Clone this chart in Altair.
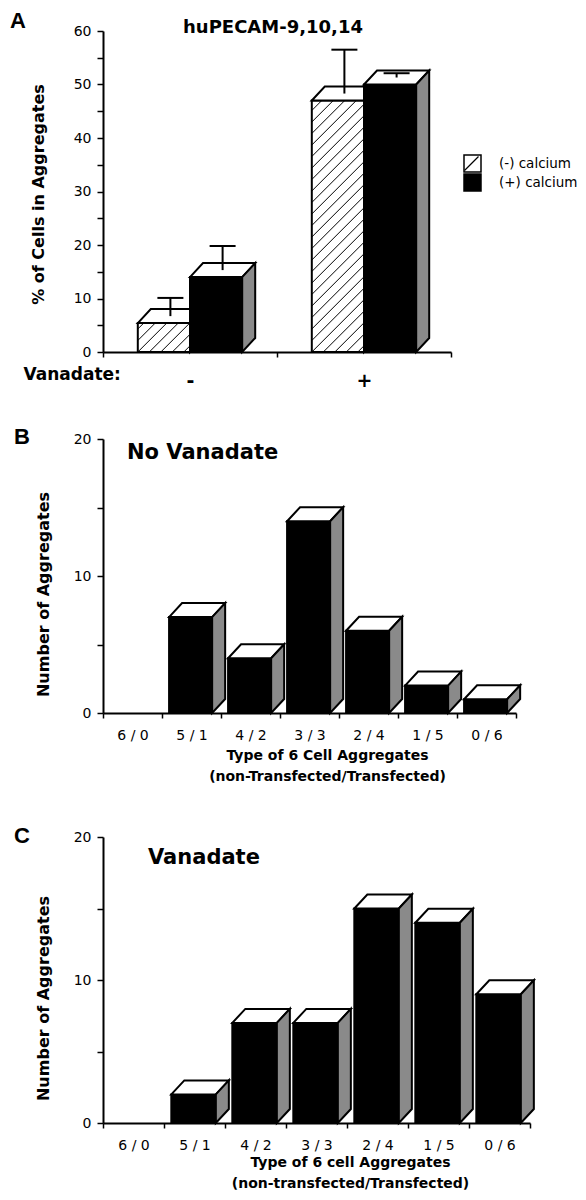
import json
import numpy as np
import pandas as pd
import altair as alt

# ---------------- data ----------------
vanadate_levels = ["-", "+"]
calcium_series = ["(-) calcium", "(+) calcium"]
pct_minus_calcium = [5.4, 47.0]
pct_plus_calcium = [14.0, 50.0]
se_minus_calcium = [3.4, 8.2]
se_plus_calcium = [4.5, 0.8]

aggregate_types = ["6/0", "5/1", "4/2", "3/3", "2/4", "1/5", "0/6"]
count_no_vanadate = [0, 7, 4, 14, 6, 2, 1]
count_vanadate = [0, 2, 7, 7, 15, 14, 9]

# ---------------- style ----------------
FONT = "DejaVu Sans"
DEPTH_X, DEPTH_Y = 13, 14        # pseudo-3D depth in pixels
SIDE_FILL = "#8a8a8a"
SW = 2


def bar_frame(values, offset, width, series):
    rows = []
    for i, v in enumerate(values):
        if v <= 0:
            continue
        rows.append(dict(bid=f"{series}-{i}", series=series, x0=i + offset,
                         x1=i + offset + width, v=v, zero=0.0))
    return pd.DataFrame(rows)


def face_frame(bars, du, dv):
    rows = []
    for r in bars.itertuples():
        t, s = r.bid + "-top", r.bid + "-side"
        rows += [
            dict(fid=t, color="white", x=r.x0, lo=r.v, hi=r.v),
            dict(fid=t, color="white", x=r.x0 + du, lo=r.v, hi=r.v + dv),
            dict(fid=t, color="white", x=r.x1, lo=r.v, hi=r.v + dv),
            dict(fid=t, color="white", x=r.x1 + du, lo=r.v + dv, hi=r.v + dv),
            dict(fid=s, color=SIDE_FILL, x=r.x1, lo=0.0, hi=r.v),
            dict(fid=s, color=SIDE_FILL, x=r.x1 + du, lo=dv, hi=r.v + dv),
        ]
    return pd.DataFrame(rows)


def hatch_frame(bars, px, py, step=11.5):
    rows = []
    for r in bars.itertuples():
        W = (r.x1 - r.x0) * px
        H = r.v * py
        for c in np.arange(-np.floor(H / step) * step, W, step):
            xs = max(0.0, c)
            xe = min(W, c + H)
            if xe - xs < 1:
                continue
            rows.append(dict(xa=r.x0 + xs / px, ya=(xs - c) / py,
                             xb=r.x0 + xe / px, yb=(xe - c) / py))
    return pd.DataFrame(rows)


def err_frame(bars, se, width, du, dv, cap_units):
    rows = []
    for (r, e) in zip(bars.itertuples(), se):
        cx = r.x0 + width / 2 + du / 2
        base = r.v + dv / 2
        rows.append(dict(cx=cx, base=base, top=base + e,
                         c0=cx - cap_units, c1=cx + cap_units))
    return pd.DataFrame(rows)


def text_layer(txt, x, y, size, weight="bold", align="left", font=FONT, baseline="middle"):
    return alt.Chart(pd.DataFrame({"t": [txt]})).mark_text(
        font=font, fontSize=size, fontWeight=weight, align=align,
        baseline=baseline, color="black"
    ).encode(text="t:N", x=alt.value(x), y=alt.value(y))


def bars3d(bars, X, Y, du, dv, front_fill, hatch=None, err=None):
    """X, Y: functions (field) -> encoding with shared scale and axis."""
    layers = []
    enc = dict(x=X("x0:Q"), x2="x1:Q", y=Y("v:Q"), y2="zero:Q")
    if isinstance(front_fill, str):
        front = alt.Chart(bars).mark_rect(stroke="black", strokeWidth=SW, fill=front_fill).encode(**enc)
    else:
        front = alt.Chart(bars).mark_rect(stroke="black", strokeWidth=SW).encode(fill=front_fill, **enc)
    layers.append(front)
    if hatch is not None and len(hatch):
        layers.append(alt.Chart(hatch).mark_rule(color="black", strokeWidth=1).encode(
            x=X("xa:Q"), x2="xb:Q", y=Y("ya:Q"), y2="yb:Q"))
    faces = face_frame(bars, du, dv)
    layers.append(alt.Chart(faces).mark_area(
        orient="vertical", stroke="black", strokeWidth=SW, strokeJoin="miter").encode(
        x=X("x:Q"), y=Y("hi:Q"), y2="lo:Q",
        fill=alt.Fill("color:N", scale=None), detail="fid:N"))
    if err is not None:
        layers.append(alt.Chart(err).mark_rule(color="black", strokeWidth=SW).encode(
            x=X("cx:Q"), y=Y("base:Q"), y2="top:Q"))
        layers.append(alt.Chart(err).mark_rule(color="black", strokeWidth=SW).encode(
            x=X("c0:Q"), x2="c1:Q", y=Y("top:Q")))
    return layers


def ylabel_expr():
    return "datum.value % 10 == 0 ? datum.label : ''"


AXIS_STYLE = dict(grid=False, domainColor="black", domainWidth=2, tickColor="black",
                  tickWidth=1.5, labelColor="black", titleColor="black", labelFont=FONT)

# ---------------- panel A ----------------
WA, HA = 348, 321
pxA, pyA = WA / 2, HA / 60
duA, dvA = DEPTH_X / pxA, DEPTH_Y / pyA
xsA = alt.Scale(domain=[0, 2], nice=False, zero=False)
ysA = alt.Scale(domain=[0, 60], nice=False)

xaxisA = alt.Axis(values=[0, 1, 2],
                  labelExpr="datum.value < 2 ? " + json.dumps(vanadate_levels) + "[datum.value] : ''",
                  labelOffset=WA / 4, labelFontSize=19, labelFontWeight="bold",
                  labelBaseline="middle", labelPadding=23, labelFlush=False, labelOverlap=False,
                  tickSize=5, title="Vanadate:", titleX=-80, titleY=22, titleAlign="left",
                  titleBaseline="middle", titleFontSize=17, titleFont=FONT, titleFontWeight="bold",
                  **AXIS_STYLE)
yaxisA = alt.Axis(values=list(range(0, 61, 5)), labelExpr=ylabel_expr(), tickSize=6,
                  labelFontSize=14, labelPadding=6, title="% of Cells in Aggregates",
                  titleX=-65, titleY=163, titleBaseline="middle", titleAlign="center",
                  titleFontSize=16, titleFont=FONT, titleFontWeight="bold", **AXIS_STYLE)


def XA(f):
    return alt.X(f, scale=xsA, axis=xaxisA)


def YA(f):
    return alt.Y(f, scale=ysA, axis=yaxisA)


hb = bar_frame(pct_minus_calcium, 0.2, 0.3, calcium_series[0])
bb = bar_frame(pct_plus_calcium, 0.5, 0.3, calcium_series[1])
fill_scale = alt.Scale(domain=calcium_series, range=["transparent", "black"])
LEG_X, LEG_Y = 360, 123
legendA = alt.Legend(title=None, orient="none", legendX=LEG_X, legendY=LEG_Y,
                     symbolType="square", symbolSize=289, symbolStrokeColor="black",
                     symbolStrokeWidth=1.5, labelFont=FONT, labelFontSize=13.5,
                     labelOffset=17, rowPadding=0, clipHeight=19, padding=0, labelColor="black")
fillA = alt.Fill("series:N", scale=fill_scale, legend=legendA)

layersA = []
layersA += bars3d(hb, XA, YA, duA, dvA, fillA,
                  hatch=hatch_frame(hb, pxA, pyA),
                  err=err_frame(hb, se_minus_calcium, 0.3, duA, dvA, 13 / pxA))
layersA += bars3d(bb, XA, YA, duA, dvA, fillA,
                  err=err_frame(bb, se_plus_calcium, 0.3, duA, dvA, 13 / pxA))
# diagonal stroke inside the hatched legend swatch
layersA.append(alt.Chart(pd.DataFrame({"k": [0]})).mark_rule(color="black", strokeWidth=1.2).encode(
    x=alt.value(LEG_X + 1.5), x2=alt.value(LEG_X + 15.5),
    y=alt.value(LEG_Y + 16.5), y2=alt.value(LEG_Y + 2.5)))
layersA.append(text_layer("A", -93, -20, 22, font="Liberation Sans", baseline="top"))
layersA.append(text_layer("huPECAM-9,10,14", WA / 2 - 4, -3, 18, align="center"))
panelA = alt.layer(*layersA).properties(width=WA, height=HA)


# ---------------- panels B and C ----------------
def count_panel(values, W, H, letter, letter_y, note, note_x, note_y, xtitle, title_x, title_y):
    n = len(aggregate_types)
    px, py = W / n, H / 20
    du, dv = DEPTH_X / px, DEPTH_Y / py
    xs = alt.Scale(domain=[0, n], nice=False, zero=False)
    ys = alt.Scale(domain=[0, 20], nice=False)
    disp = [t.replace("/", " / ") for t in aggregate_types]
    xaxis = alt.Axis(values=list(range(n + 1)),
                     labelExpr=f"datum.value < {n} ? " + json.dumps(disp) + "[datum.value] : ''",
                     labelOffset=px / 2, labelFontSize=14, labelBaseline="middle",
                     labelPadding=17, labelFlush=False, labelOverlap=False, tickSize=5,
                     title=xtitle, titleX=title_x, titleY=title_y, titleBaseline="top",
                     titleLineHeight=21.5, titleFontSize=14, titleFont=FONT, titleFontWeight="bold",
                     **AXIS_STYLE)
    yaxis = alt.Axis(values=[0, 5, 10, 15, 20], labelExpr=ylabel_expr(), tickSize=6,
                     labelFontSize=14, labelPadding=6, title="Number of Aggregates",
                     titleX=-60, titleY=H / 2 + 18, titleBaseline="middle", titleAlign="center",
                     titleFontSize=16, titleFont=FONT, titleFontWeight="bold", **AXIS_STYLE)

    def X(f):
        return alt.X(f, scale=xs, axis=xaxis)

    def Y(f):
        return alt.Y(f, scale=ys, axis=yaxis)

    bars = bar_frame(values, 0.12, 0.73, "count")
    layers = bars3d(bars, X, Y, du, dv, "black")
    layers.append(text_layer(letter, -89, letter_y, 22, font="Liberation Sans", baseline="top"))
    layers.append(text_layer(note, note_x, note_y, 21))
    return alt.layer(*layers).properties(width=W, height=H)


panelB = count_panel(count_no_vanadate, 413, 274, "B", -12, "No Vanadate", 24, 14,
                     ["Type of 6 Cell Aggregates", "(non-Transfected/Transfected)"], 224, 35)
panelC = count_panel(count_vanadate, 427, 286, "C", -11, "Vanadate", 45, 21,
                     ["Type of 6 cell Aggregates", "(non-transfected/Transfected)"], 247, 32)

chart = alt.vconcat(
    panelA,
    alt.vconcat(panelB, panelC, spacing=124, bounds="flush"),
    spacing=87, bounds="flush",
).properties(padding={"top": 2, "left": 2, "right": 0, "bottom": 0}).configure_view(strokeWidth=0)

chart.save("out.html", embed_options={"renderer": "svg", "actions": False})
